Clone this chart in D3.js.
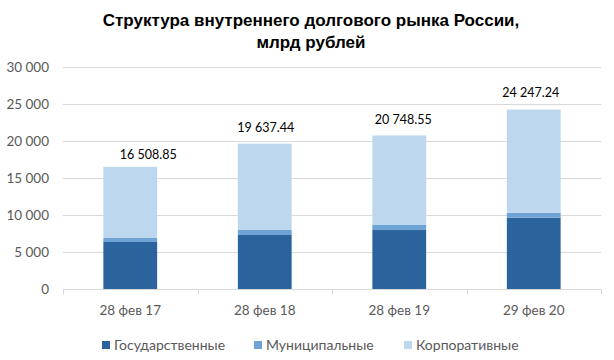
<!DOCTYPE html>
<html>
<head>
<meta charset="utf-8">
<script src="https://cdn.jsdelivr.net/npm/d3@7"></script>
<style>
  body { margin: 0; background: #fff; }
  svg { display: block; }
</style>
</head>
<body>
<div id="chart"></div>
<script>
// данные
const categories = ['28 фев 17', '28 фев 18', '28 фев 19', '29 фев 20'];
const totals = [16508.85, 19637.44, 20748.55, 24247.24];
const gov = [6350, 7300, 7970, 9640];
const muni = [540, 670, 680, 680];
const corp = totals.map((t, i) => t - gov[i] - muni[i]);
const seriesNames = ['Государственные', 'Муниципальные', 'Корпоративные'];
const yTicks = [0, 5000, 10000, 15000, 20000, 25000, 30000];

const width = 614, height = 360;
const margin = { left: 63, right: 13, top: 67, bottom: 71 };
const colors = ['#2b649d', '#6fa3d6', '#bdd7ee'];
// подписи сумм сдвинуты вручную, как в оригинале
const labelDx = [18, 1, 4, -3];
const labelDy = [8, 12, 11, 13];

const rows = categories.map((c, i) => ({ cat: c, g: gov[i], m: muni[i], c: corp[i], total: totals[i], i: i }));

const svg = d3.select('#chart').append('svg')
    .attr('width', width)
    .attr('height', height);

const x = d3.scaleBand()
    .domain(categories)
    .range([margin.left, width - margin.right])
    .paddingInner(0.6)
    .paddingOuter(0.3);

const y = d3.scaleLinear()
    .domain([0, 30000])
    .range([height - margin.bottom, margin.top]);

const fmt = v => d3.format(',')(v).replace(/,/g, ' ');
const fmt2 = v => d3.format(',.2f')(v).replace(/,/g, ' ');

// title
['Структура внутреннего долгового рынка России,', 'млрд рублей'].forEach((t, i) => {
    svg.append('text')
        .attr('x', 311).attr('y', 26 + i * 22)
        .attr('text-anchor', 'middle')
        .attr('font-family', 'Liberation Sans, Arial, sans-serif')
        .attr('font-weight', 'bold')
        .attr('font-size', 17)
        .attr('fill', '#000')
        .text(t);
});

// grid
svg.append('g')
    .selectAll('line')
    .data(yTicks.filter(t => t > 0))
    .enter().append('line')
    .attr('x1', margin.left).attr('x2', width - margin.right)
    .attr('y1', d => Math.round(y(d)) + 0.5).attr('y2', d => Math.round(y(d)) + 0.5)
    .attr('stroke', '#d9d9d9');

// y axis
const yAxis = svg.append('g')
    .attr('transform', `translate(${margin.left - 14},0)`)
    .call(d3.axisLeft(y).tickValues(yTicks).tickFormat(fmt).tickSize(0).tickPadding(0));
yAxis.select('.domain').remove();
yAxis.selectAll('text')
    .attr('font-family', 'Lato, Carlito, sans-serif')
    .attr('font-size', 13.5)
    .attr('fill', '#595959');

// stacked bars
const stack = d3.stack().keys(['g', 'm', 'c']);
const layers = stack(rows);

svg.append('g')
    .selectAll('g')
    .data(layers)
    .enter().append('g')
    .attr('fill', (d, i) => colors[i])
    .selectAll('rect')
    .data(d => d)
    .enter().append('rect')
    .attr('x', d => x(d.data.cat))
    .attr('width', x.bandwidth())
    .attr('y', d => y(d[1]))
    .attr('height', d => y(d[0]) - y(d[1]));

// x axis
const xAxis = svg.append('g')
    .attr('transform', `translate(0,${Math.round(y(0)) + 0.5})`);
xAxis.append('line')
    .attr('x1', margin.left).attr('x2', width - margin.right)
    .attr('stroke', '#d9d9d9');
const step = (width - margin.right - margin.left) / categories.length;
xAxis.selectAll('.tk')
    .data(d3.range(categories.length + 1))
    .enter().append('line')
    .attr('class', 'tk')
    .attr('x1', d => Math.round(margin.left + d * step) + 0.5)
    .attr('x2', d => Math.round(margin.left + d * step) + 0.5)
    .attr('y1', 0).attr('y2', 5)
    .attr('stroke', '#d9d9d9');
xAxis.selectAll('.lbl')
    .data(categories)
    .enter().append('text')
    .attr('class', 'lbl')
    .attr('x', d => x(d) + x.bandwidth() / 2)
    .attr('y', 25)
    .attr('text-anchor', 'middle')
    .attr('font-family', 'Lato, Carlito, sans-serif')
    .attr('font-size', 13.5)
    .attr('fill', '#595959')
    .text(d => d);

// total labels
svg.append('g')
    .selectAll('text')
    .data(rows)
    .enter().append('text')
    .attr('x', d => x(d.cat) + x.bandwidth() / 2 + labelDx[d.i])
    .attr('y', d => y(d.total) - labelDy[d.i])
    .attr('text-anchor', 'middle')
    .attr('font-family', 'Lato, Carlito, sans-serif')
    .attr('font-size', 12.5)
    .attr('fill', '#000')
    .text(d => fmt2(d.total));

// legend
const legendX = [102, 254, 404];
const legend = svg.append('g')
    .selectAll('g')
    .data(seriesNames)
    .enter().append('g')
    .attr('transform', (d, i) => `translate(${legendX[i]},345)`);
legend.append('rect')
    .attr('x', 0).attr('y', -4)
    .attr('width', 8).attr('height', 8)
    .attr('fill', (d, i) => colors[i]);
legend.append('text')
    .attr('x', 12).attr('y', 5)
    .attr('font-family', 'Lato, Carlito, sans-serif')
    .attr('font-size', 14)
    .attr('fill', '#595959')
    .text(d => d);
</script>
</body>
</html>
